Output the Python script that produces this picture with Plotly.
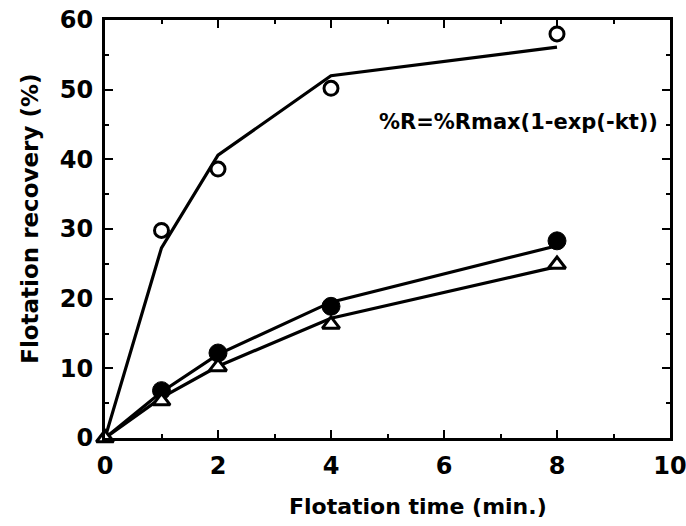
import plotly.graph_objects as go

# Flotation time (min.)
t_points = [1, 2, 4, 8]
t_all = [0, 1, 2, 4, 8]

# Measured recoveries (%)
open_circle = [29.8, 38.6, 50.2, 58.0]
filled_circle = [6.8, 12.2, 18.9, 28.3]
triangle = [0.0, 5.3, 10.2, 16.3, 24.9]

# Fitted curves %R = %Rmax(1-exp(-kt)) drawn as polylines
fit_open = [0, 27.3, 40.6, 52.0, 56.1]
fit_filled = [0, 6.6, 12.0, 19.5, 27.6]
fit_triangle = [0, 5.8, 10.3, 17.2, 24.6]

x_ticks = [0, 2, 4, 6, 8, 10]
y_ticks = [0, 10, 20, 30, 40, 50, 60]

FONT = "DejaVu Sans"
LW = 3.2

fig = go.Figure()
for fy in (fit_open, fit_filled, fit_triangle):
    fig.add_trace(go.Scatter(x=t_all, y=fy, mode="lines",
                             line=dict(color="black", width=LW),
                             showlegend=False, cliponaxis=False))

fig.add_trace(go.Scatter(x=t_points, y=open_circle, mode="markers",
                         marker=dict(symbol="circle", size=14, color="white",
                                     line=dict(color="black", width=3)),
                         showlegend=False, cliponaxis=False))
fig.add_trace(go.Scatter(x=t_points, y=filled_circle, mode="markers",
                         marker=dict(symbol="circle", size=18, color="black",
                                     line=dict(color="black", width=1)),
                         showlegend=False, cliponaxis=False))
fig.add_trace(go.Scatter(x=t_all, y=triangle, mode="markers",
                         marker=dict(symbol="triangle-up", size=15, color="white",
                                     line=dict(color="black", width=3)),
                         showlegend=False, cliponaxis=False))

axis_common = dict(
    showgrid=False, zeroline=False, showline=True, linecolor="black",
    linewidth=3, mirror="allticks", ticks="inside", ticklen=8, tickwidth=2,
    tickcolor="black", ticklabeloverflow="allow",
    tickfont=dict(family=FONT, size=24, color="black", weight="bold"),
)

fig.update_xaxes(range=[0, 10], tickvals=x_ticks,
                 ticktext=[str(v) for v in x_ticks],
                 minor=dict(ticks="inside", ticklen=4, tickwidth=2,
                            tickcolor="black", dtick=1, tick0=0),
                 ticklabelstandoff=4, **axis_common)
fig.update_yaxes(range=[0, 60], tickvals=y_ticks,
                 ticktext=[str(v) for v in y_ticks],
                 minor=dict(ticks="inside", ticklen=4, tickwidth=2,
                            tickcolor="black", dtick=5, tick0=0),
                 ticklabelstandoff=4, **axis_common)

fig.add_annotation(text="<b>%R=%Rmax(1-exp(-kt))</b>", x=9.82, y=45.4,
                   xref="x", yref="y", xanchor="right", yanchor="middle",
                   showarrow=False,
                   font=dict(family=FONT, size=21, color="black"))
fig.add_annotation(text="<b>Flotation time (min.)</b>", x=5.54, y=-0.165,
                   xref="x", yref="paper", xanchor="center", yanchor="middle",
                   showarrow=False,
                   font=dict(family=FONT, size=22, color="black"))
fig.add_annotation(text="<b>Flotation recovery (%)</b>", x=-0.133, y=0.524,
                   xref="paper", yref="paper", xanchor="center", yanchor="middle",
                   textangle=-90, showarrow=False,
                   font=dict(family=FONT, size=23, color="black"))

fig.update_layout(
    width=686, height=526,
    margin=dict(l=105, r=16, t=20, b=88, autoexpand=False),
    plot_bgcolor="white", paper_bgcolor="white",
)

fig.write_html("out.html")
